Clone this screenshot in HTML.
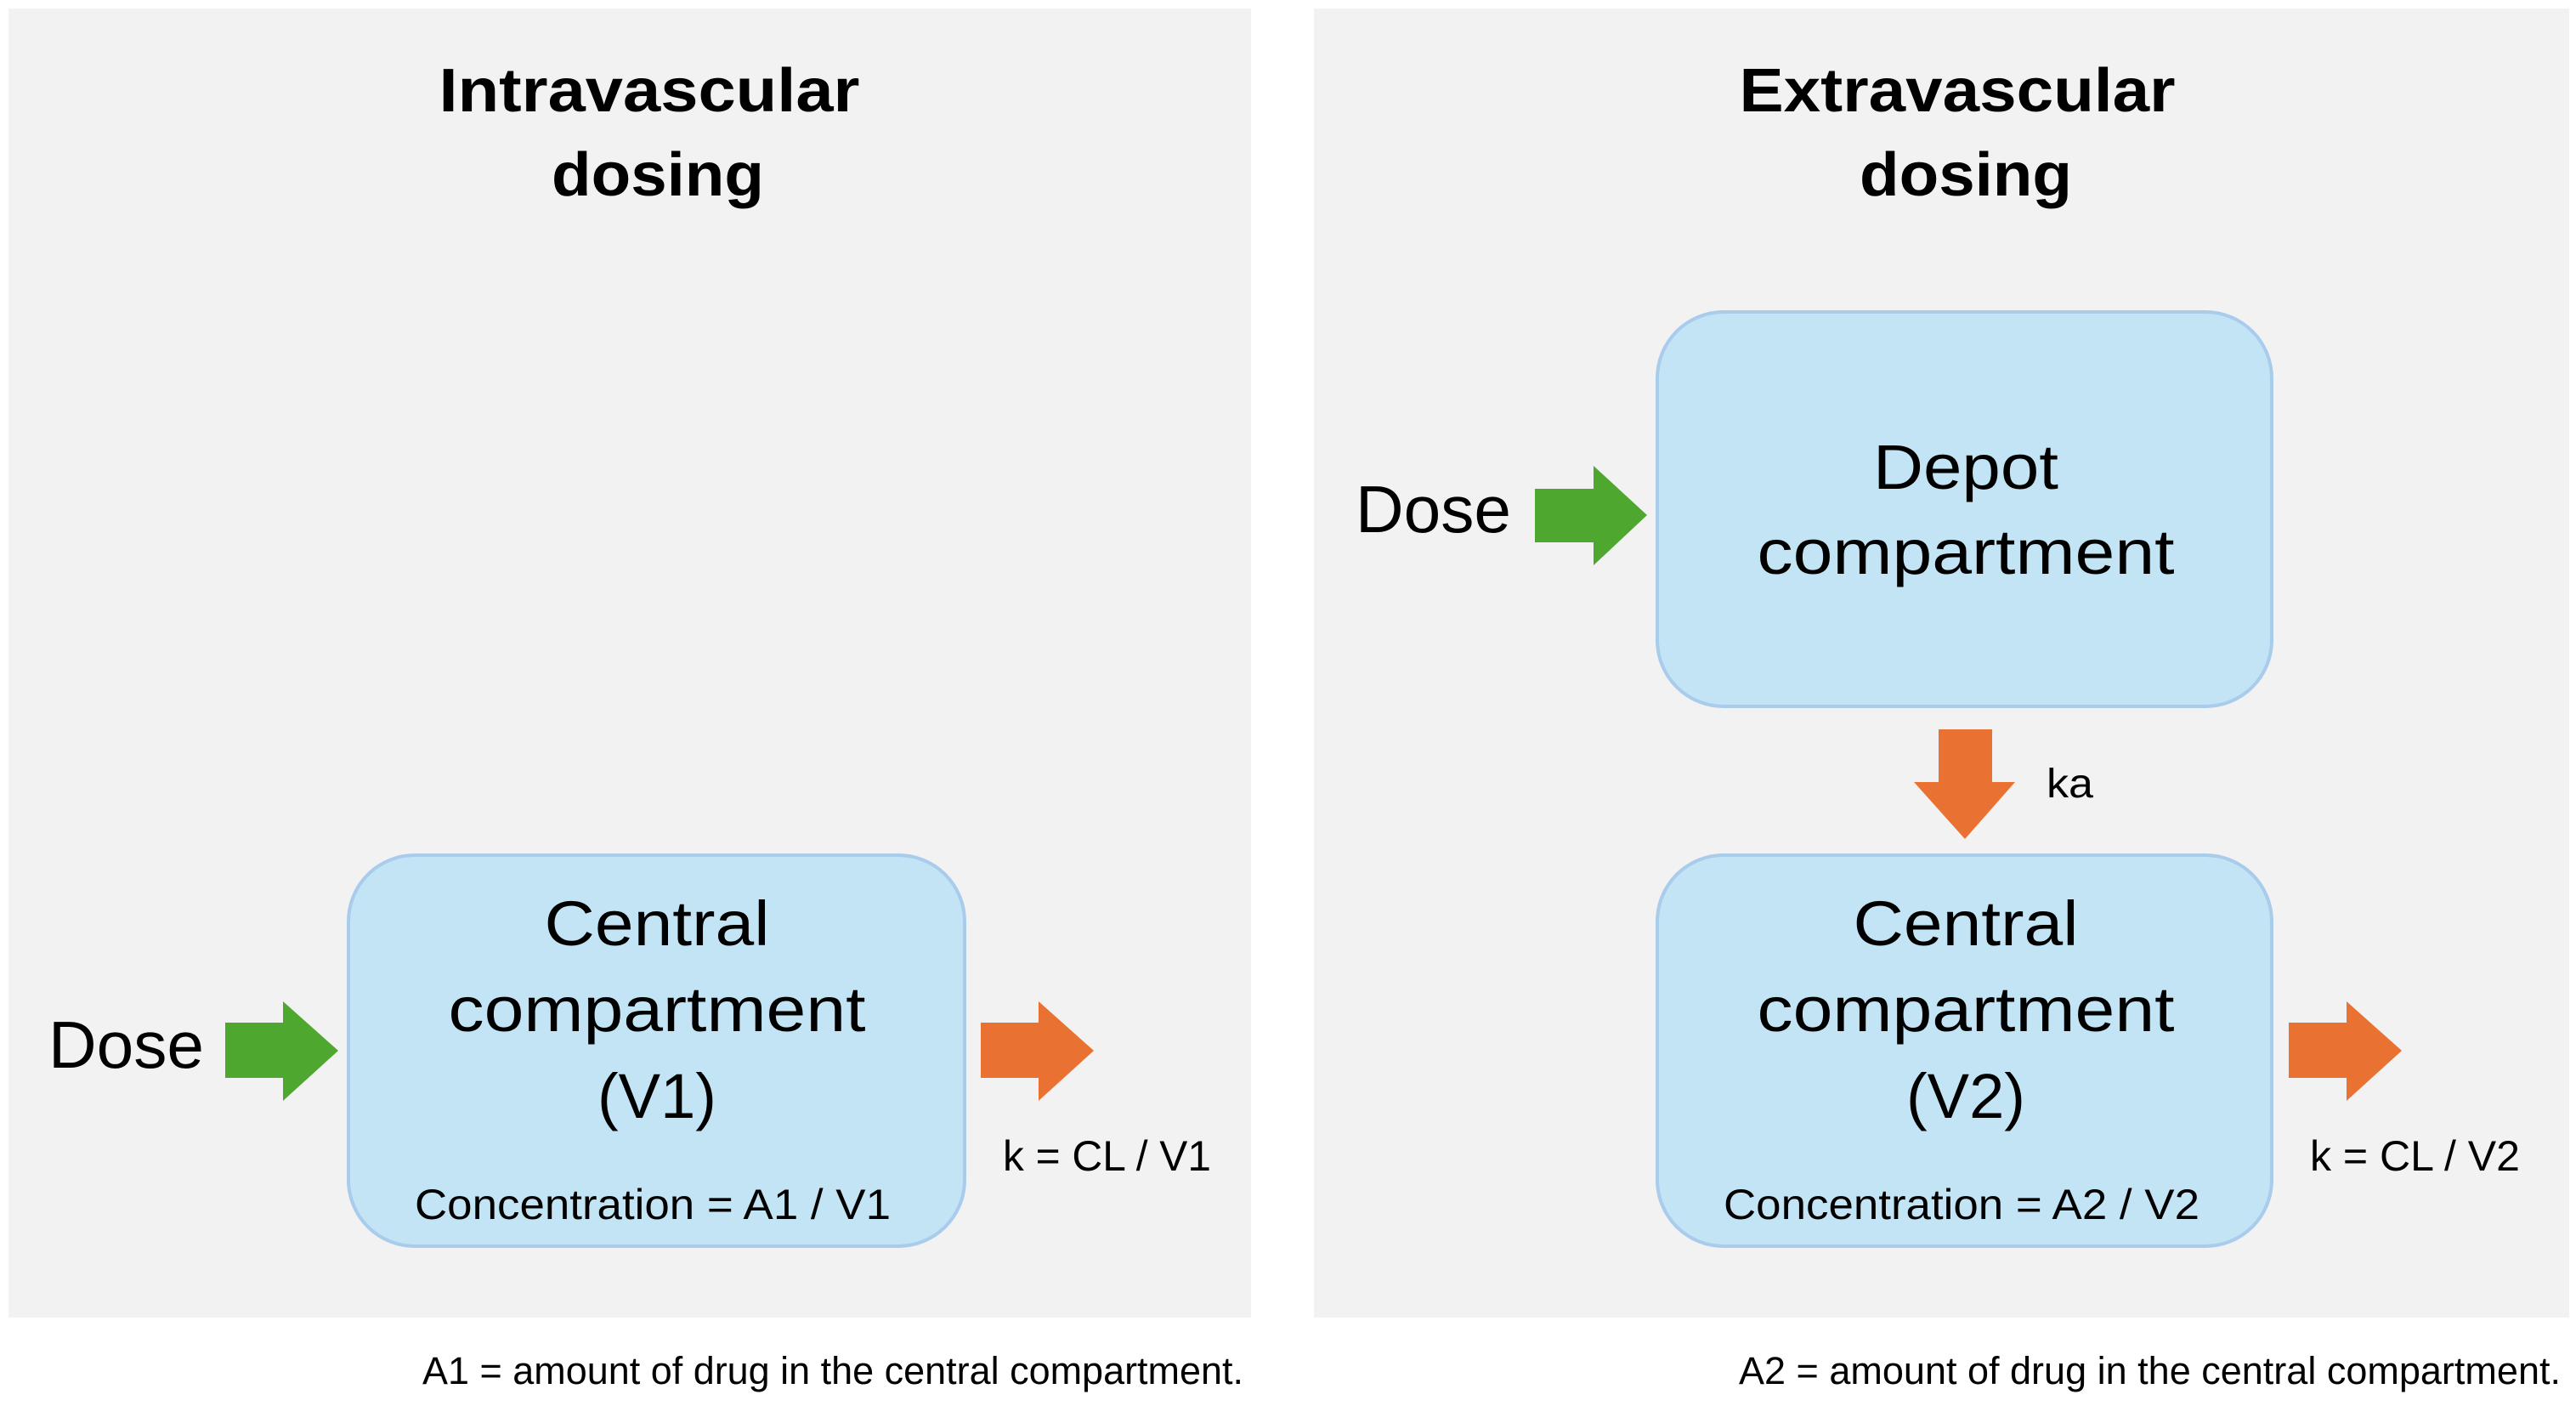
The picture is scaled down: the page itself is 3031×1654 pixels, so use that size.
<!DOCTYPE html>
<html><head><meta charset="utf-8"><style>
html,body{margin:0;padding:0;background:#fff;}
svg{display:block;}
text{font-family:"Liberation Sans",sans-serif;fill:#000;}
</style></head><body>
<svg width="3031" height="1654" viewBox="0 0 3031 1654" xmlns="http://www.w3.org/2000/svg">
<rect x="0" y="0" width="3031" height="1654" fill="#fff"/>
<rect x="10" y="10" width="1462" height="1540" fill="#f2f2f2"/>
<rect x="1546" y="10" width="1477" height="1540" fill="#f2f2f2"/>

<!-- Titles -->
<text x="764" y="131" font-size="72" font-weight="bold" text-anchor="middle" textLength="495" lengthAdjust="spacingAndGlyphs">Intravascular</text>
<text x="774" y="230" font-size="72" font-weight="bold" text-anchor="middle" textLength="250" lengthAdjust="spacingAndGlyphs">dosing</text>
<text x="2303" y="131" font-size="72" font-weight="bold" text-anchor="middle" textLength="513" lengthAdjust="spacingAndGlyphs">Extravascular</text>
<text x="2313" y="230" font-size="72" font-weight="bold" text-anchor="middle" textLength="250" lengthAdjust="spacingAndGlyphs">dosing</text>

<!-- Left central box -->
<rect x="410" y="1006" width="725" height="460" rx="78" ry="78" fill="#c2e4f4" stroke="#a9cbec" stroke-width="4"/>
<text x="773" y="1112" font-size="74" text-anchor="middle" textLength="265" lengthAdjust="spacingAndGlyphs">Central</text>
<text x="773" y="1213" font-size="74" text-anchor="middle" textLength="491" lengthAdjust="spacingAndGlyphs">compartment</text>
<text x="773" y="1315" font-size="74" text-anchor="middle" textLength="140" lengthAdjust="spacingAndGlyphs">(V1)</text>
<text x="768" y="1434" font-size="50" text-anchor="middle" textLength="560" lengthAdjust="spacingAndGlyphs">Concentration = A1 / V1</text>

<text x="57" y="1256" font-size="78" textLength="183" lengthAdjust="spacingAndGlyphs">Dose</text>
<polygon points="265,1203 333,1203 333,1178 398,1236 333,1295 333,1268 265,1268" fill="#4ea72e"/>
<polygon points="1154,1203 1222,1203 1222,1178 1287,1236 1222,1295 1222,1268 1154,1268" fill="#e97132"/>
<text x="1180" y="1377" font-size="50" textLength="245" lengthAdjust="spacingAndGlyphs">k = CL / V1</text>
<text x="497" y="1628" font-size="45" textLength="966" lengthAdjust="spacingAndGlyphs">A1 = amount of drug in the central compartment.</text>

<!-- Right depot box -->
<rect x="1950" y="367" width="723" height="464" rx="78" ry="78" fill="#c2e4f4" stroke="#a9cbec" stroke-width="4"/>
<text x="2313" y="575" font-size="74" text-anchor="middle" textLength="218" lengthAdjust="spacingAndGlyphs">Depot</text>
<text x="2313" y="675" font-size="74" text-anchor="middle" textLength="491" lengthAdjust="spacingAndGlyphs">compartment</text>
<text x="1595" y="626" font-size="78" textLength="183" lengthAdjust="spacingAndGlyphs">Dose</text>
<polygon points="1806,575 1875,575 1875,548 1938,606 1875,665 1875,638 1806,638" fill="#4ea72e"/>

<!-- down arrow -->
<polygon points="2281,858 2344,858 2344,920 2371,920 2312,987 2252,920 2281,920" fill="#e97132"/>
<text x="2408" y="938" font-size="48" textLength="55" lengthAdjust="spacingAndGlyphs">ka</text>

<!-- Right central box -->
<rect x="1950" y="1006" width="723" height="460" rx="78" ry="78" fill="#c2e4f4" stroke="#a9cbec" stroke-width="4"/>
<text x="2313" y="1112" font-size="74" text-anchor="middle" textLength="265" lengthAdjust="spacingAndGlyphs">Central</text>
<text x="2313" y="1213" font-size="74" text-anchor="middle" textLength="491" lengthAdjust="spacingAndGlyphs">compartment</text>
<text x="2313" y="1315" font-size="74" text-anchor="middle" textLength="140" lengthAdjust="spacingAndGlyphs">(V2)</text>
<text x="2308" y="1434" font-size="50" text-anchor="middle" textLength="560" lengthAdjust="spacingAndGlyphs">Concentration = A2 / V2</text>
<polygon points="2693,1203 2761,1203 2761,1178 2826,1236 2761,1295 2761,1268 2693,1268" fill="#e97132"/>
<text x="2718" y="1377" font-size="50" textLength="247" lengthAdjust="spacingAndGlyphs">k = CL / V2</text>
<text x="2046" y="1628" font-size="45" textLength="967" lengthAdjust="spacingAndGlyphs">A2 = amount of drug in the central compartment.</text>
</svg>
</body></html>
